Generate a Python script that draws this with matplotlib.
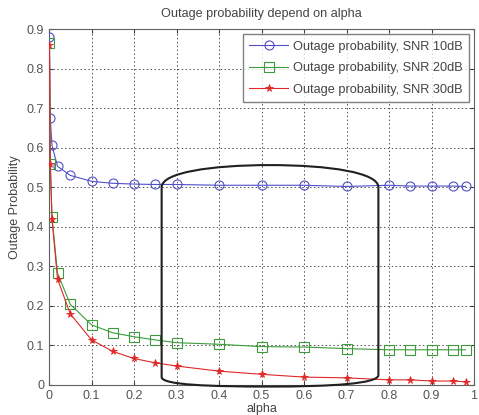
import matplotlib
matplotlib.use("Agg")
import matplotlib.pyplot as plt
from matplotlib.path import Path
from matplotlib.patches import PathPatch

plt.rcParams['font.family'] = ['Liberation Sans', 'DejaVu Sans']

alpha = [0.001, 0.003, 0.007, 0.02, 0.05, 0.1, 0.15, 0.2, 0.25, 0.3, 0.4,
         0.5, 0.6, 0.7, 0.8, 0.85, 0.9, 0.95, 0.98]
snr10 = [0.88, 0.674, 0.606, 0.553, 0.53, 0.515, 0.51, 0.508, 0.507, 0.507, 0.505,
         0.505, 0.505, 0.502, 0.505, 0.503, 0.503, 0.503, 0.502]
snr20 = [0.865, 0.56, 0.425, 0.283, 0.204, 0.152, 0.132, 0.122, 0.114, 0.107, 0.103,
         0.097, 0.096, 0.092, 0.089, 0.089, 0.089, 0.089, 0.089]
snr30 = [0.86, 0.56, 0.42, 0.268, 0.18, 0.114, 0.085, 0.067, 0.056, 0.048, 0.035,
         0.027, 0.02, 0.018, 0.013, 0.013, 0.01, 0.01, 0.008]
labels = ['Outage probability, SNR 10dB', 'Outage probability, SNR 20dB',
          'Outage probability, SNR 30dB']
xticks = [0, 0.1, 0.2, 0.3, 0.4, 0.5, 0.6, 0.7, 0.8, 0.9, 1]
xticklabels = ['0', '0.1', '0.2', '0.3', '0.4', '0.5', '0.6', '0.7', '0.8', '0.9', '1']
yticks = [0, 0.1, 0.2, 0.3, 0.4, 0.5, 0.6, 0.7, 0.8, 0.9]
yticklabels = ['0', '0.1', '0.2', '0.3', '0.4', '0.5', '0.6', '0.7', '0.8', '0.9']

fig = plt.figure(figsize=(4.79, 4.15), dpi=100)
ax = fig.add_axes([0.1023, 0.0723, 0.8873, 0.8577])

ax.plot(alpha, snr10, color='#5050c8', lw=0.8, marker='o', ms=6.5, mfc='none',
        mew=0.8, label=labels[0], zorder=3)
ax.plot(alpha, snr20, color='#3c9c3c', lw=0.8, marker='s', ms=6.5, mfc='none',
        mew=0.8, label=labels[1], zorder=3)
ax.plot(alpha, snr30, color='#e02828', lw=0.8, marker='*', ms=5.5,
        mew=0.6, label=labels[2], zorder=3)

# hand-drawn rounded annotation box
verts = [(0.265, 0.02), (0.265, 0.50),
         (0.265, 0.537), (0.38, 0.556), (0.52, 0.556),
         (0.66, 0.556), (0.775, 0.537), (0.775, 0.50),
         (0.775, 0.025),
         (0.775, 0.003), (0.66, -0.004), (0.52, -0.004),
         (0.38, -0.004), (0.265, 0.0), (0.265, 0.02)]
codes = [Path.MOVETO, Path.LINETO,
         Path.CURVE4, Path.CURVE4, Path.CURVE4,
         Path.CURVE4, Path.CURVE4, Path.CURVE4,
         Path.LINETO,
         Path.CURVE4, Path.CURVE4, Path.CURVE4,
         Path.CURVE4, Path.CURVE4, Path.CURVE4]
ax.add_patch(PathPatch(Path(verts, codes), fill=False, ec='#202020', lw=1.5,
                       zorder=4, clip_on=False))

ax.set_xlim(0, 1)
ax.set_ylim(0, 0.9)
ax.set_xticks(xticks)
ax.set_xticklabels(xticklabels)
ax.set_yticks(yticks)
ax.set_yticklabels(yticklabels)
ax.tick_params(direction='in', top=True, right=True, labelsize=9, length=3,
               colors='#404040', labelcolor='#555555')
ax.grid(True, linestyle=(0, (1.5, 2.5)), color='#505050', lw=0.7)
for s in ax.spines.values():
    s.set_color('#606060')

ax.set_title('Outage probability depend on alpha', fontsize=9.1, color='#444444', pad=9)
ax.set_xlabel('alpha', fontsize=9, color='#444444', labelpad=1)
ax.set_ylabel('Outage Probability', fontsize=9, color='#444444', labelpad=4)

leg = ax.legend(loc='upper right', fontsize=9.2, frameon=True, fancybox=False,
                edgecolor='#606060', handlelength=3.0, borderpad=0.5,
                labelspacing=0.75, handletextpad=0.4, borderaxespad=0.4)
leg.get_frame().set_linewidth(1.0)
for t in leg.get_texts():
    t.set_color('#444444')

fig.savefig('out.png', dpi=100, facecolor='white')
